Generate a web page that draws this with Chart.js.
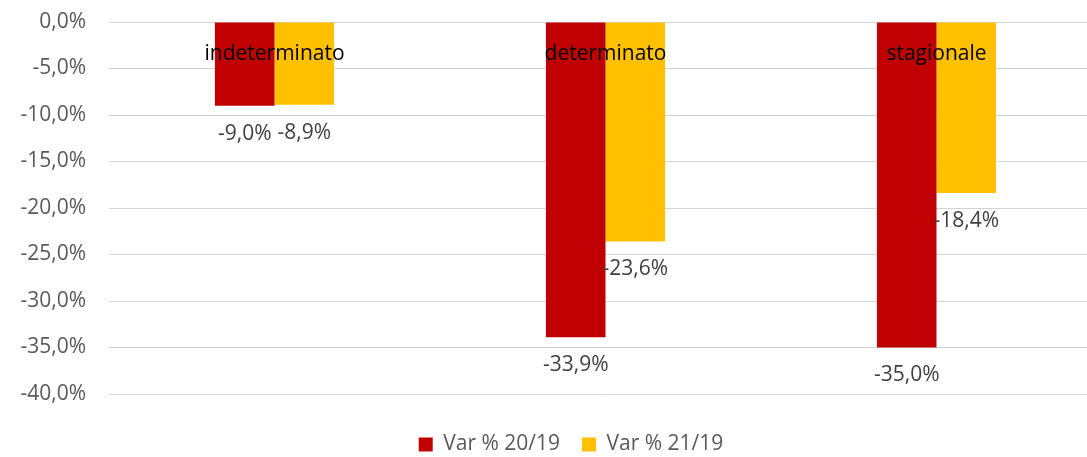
<!DOCTYPE html>
<html>
<head>
<meta charset="utf-8">
<script src="https://cdn.jsdelivr.net/npm/chart.js@4"></script>
<style>
    html, body { margin: 0; padding: 0; overflow: hidden; background: #ffffff; }
    #wrap { width: 1142px; height: 465px; }
</style>
</head>
<body>
<div id="wrap"><canvas id="bar-chart"></canvas></div>
<script>
// data
var categories = ["indeterminato", "determinato", "stagionale"];
var var_20_19 = [-9.0, -33.9, -35.0];
var var_21_19 = [-8.9, -23.6, -18.4];
var series_names = ["Var % 20/19", "Var % 21/19"];
var y_min = -40;
var y_max = 0;
var y_step = 5;

var fontName = "'Open Sans', 'Noto Sans', sans-serif";

function formatPercent(v) {
    return v.toFixed(1).replace(".", ",") + "%";
}

// draw the value under each bar end
var valueLabels = {
    id: "valueLabels",
    afterDatasetsDraw: function (chart) {
        var ctx = chart.ctx;
        ctx.save();
        ctx.font = "21px " + fontName;
        ctx.fillStyle = "#404040";
        ctx.textAlign = "center";
        ctx.textBaseline = "middle";
        chart.data.datasets.forEach(function (ds, i) {
            var meta = chart.getDatasetMeta(i);
            meta.data.forEach(function (bar, j) {
                ctx.fillText(formatPercent(ds.data[j]), bar.x, bar.y + 28);
            });
        });
        ctx.restore();
    }
};

new Chart(document.getElementById("bar-chart"), {
    type: "bar",
    data: {
        labels: categories,
        datasets: [{
            label: series_names[0],
            data: var_20_19,
            backgroundColor: "#C00000"
        }, {
            label: series_names[1],
            data: var_21_19,
            backgroundColor: "#FFC000"
        }]
    },
    plugins: [valueLabels],
    options: {
        responsive: true,
        maintainAspectRatio: false,
        animation: false,
        layout: {
            padding: { top: 22, left: 0, right: 0, bottom: 0 }
        },
        datasets: {
            bar: {
                categoryPercentage: 0.36,
                barPercentage: 1.0
            }
        },
        scales: {
            x: {
                position: { y: 0 },
                grid: { display: false },
                border: { display: false },
                ticks: {
                    z: 1,
                    color: "#000000",
                    padding: 11,
                    font: { family: fontName, size: 21 }
                }
            },
            xB: {
                type: "linear",
                position: "bottom",
                grid: { display: false },
                border: { display: false },
                ticks: { display: false },
                afterFit: function (scale) { scale.height = 18; }
            },
            y: {
                min: y_min,
                max: y_max,
                ticks: {
                    stepSize: y_step,
                    color: "#595959",
                    padding: 0,
                    font: { family: fontName, size: 21 },
                    callback: function (value) { return formatPercent(value); }
                },
                grid: {
                    color: "#d4d4d4",
                    lineWidth: 1,
                    drawTicks: true,
                    tickLength: 23,
                    tickColor: "rgba(0,0,0,0)"
                },
                border: { display: false },
                afterFit: function (scale) { scale.width = 109; }
            },
            yR: {
                type: "linear",
                position: "right",
                grid: { display: false },
                border: { display: false },
                ticks: { display: false },
                afterFit: function (scale) { scale.width = 40; }
            }
        },
        plugins: {
            legend: {
                position: "bottom",
                labels: {
                    boxWidth: 14,
                    boxHeight: 14,
                    padding: 22,
                    color: "#595959",
                    font: { family: fontName, size: 21 }
                }
            },
            tooltip: { enabled: false }
        }
    }
});
</script>
</body>
</html>
